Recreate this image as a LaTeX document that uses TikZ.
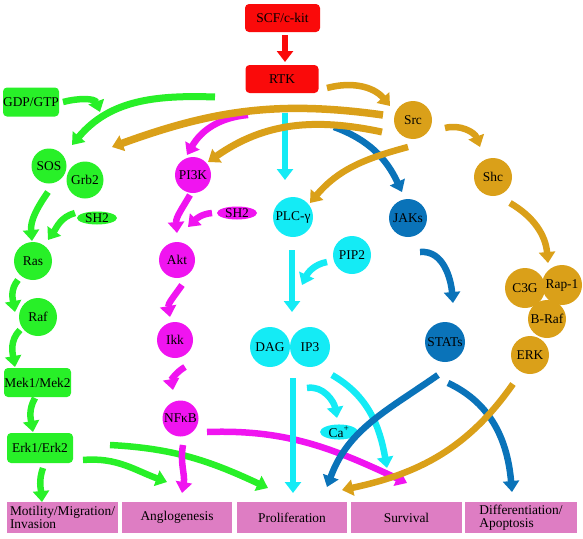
\documentclass[tikz,border=0pt]{standalone}
\usepackage{fontspec}
\setmainfont{Liberation Serif}
\usetikzlibrary{arrows.meta,shapes.geometric}

\definecolor{kred}{RGB}{250,10,10}
\definecolor{kgreen}{RGB}{40,240,40}
\definecolor{kmagenta}{RGB}{240,20,240}
\definecolor{kcyan}{RGB}{20,235,245}
\definecolor{kblue}{RGB}{10,115,185}
\definecolor{korange}{RGB}{218,160,25}
\definecolor{kpink}{RGB}{222,125,195}

\begin{document}
\begin{tikzpicture}[x=1pt, y=1pt,
    every node/.style={font=\fontsize{13.4}{13.4}\selectfont, inner sep=0pt},
    mol/.style={circle, fill=#1, minimum size=38pt},
    plate/.style={rectangle, rounded corners=4pt, fill=#1, minimum height=29pt},
    motif/.style={ellipse, fill=#1, minimum width=40pt, minimum height=13pt},
    fate/.style={rectangle, fill=kpink, minimum width=110pt, minimum height=31pt, align=left},
    arr/.style={draw=#1, line width=6.5pt, -{Triangle[width=16pt,length=11pt]}}]
    \useasboundingbox (0,0) rectangle (583,-538);
    \node[plate=kred, minimum width=75pt, minimum height=28pt] (scf) at (282.5,-18) {SCF/c-kit};
    \node[plate=kred, minimum width=73pt, minimum height=28pt] (rtk) at (282,-79) {RTK};
    \node[plate=kgreen, minimum width=56pt] (gdp) at (31,-102) {GDP/GTP};
    \node[mol=kgreen, minimum size=35pt] (sos) at (49,-166) {SOS};
    \node[mol=kgreen, minimum size=37pt] (grb2) at (85,-180) {Grb2};
    \node[motif=kgreen] (sh2g) at (97,-218) {SH2};
    \node[mol=kgreen] (ras) at (33,-261) {Ras};
    \node[mol=kgreen] (raf) at (38,-317) {Raf};
    \node[plate=kgreen, minimum width=67pt] (mek) at (37.5,-382.5) {Mek1/Mek2};
    \node[plate=kgreen, minimum width=66pt, minimum height=30pt] (erk12) at (40,-448) {Erk1/Erk2};
    \node[mol=kmagenta, minimum size=36pt] (pi3k) at (193,-175) {PI3K};
    \node[motif=kmagenta] (sh2m) at (237,-213) {SH2};
    \node[mol=kmagenta, minimum size=36pt] (akt) at (177,-260) {Akt};
    \node[mol=kmagenta, minimum size=36pt] (ikk) at (175,-340) {Ikk};
    \node[mol=kmagenta, minimum size=36pt] (nfkb) at (180.5,-418.5) {NFκB};
    \node[mol=kcyan, minimum size=40pt] (plc) at (293,-217) {PLC-γ};
    \node[mol=kcyan] (pip2) at (352,-255) {PIP2};
    \node[mol=kcyan, minimum size=40pt] (dag) at (270,-347) {DAG};
    \node[mol=kcyan, minimum size=40pt] (ip3) at (310,-347) {IP3};
    \node[motif=kcyan, minimum width=38pt] (ca) at (339,-432) {Ca\textsuperscript{+}};
    \node[mol=kblue] (jaks) at (408,-218) {JAKs};
    \node[mol=kblue, minimum size=40pt] (stats) at (445,-342) {STATs};
    \node[mol=korange] (src) at (413,-120) {Src};
    \node[mol=korange] (shc) at (493,-177) {Shc};
    \node[mol=korange, minimum size=40pt] (c3g) at (525,-288) {C3G};
    \node[mol=korange, minimum size=40pt] (rap1) at (562,-285) {Rap-1};
    \node[mol=korange] (braf) at (547,-319) {B-Raf};
    \node[mol=korange] (erk) at (530,-355) {ERK};
    \node[fate, minimum width=111pt] (mot) at (62.5,-517.5) {Motility/Migration/\\Invasion};
    \node[fate] (ang) at (177,-517.5) {Anglogenesis};
    \node[fate] (pro) at (292,-517.5) {Proliferation};
    \node[fate, minimum width=111pt] (sur) at (406.5,-517.5) {Survival};
    \node[fate, minimum width=112pt] (dif) at (521,-517.5) {Differentiation/\\Apoptosis};

    \draw[arr=kred] ([shift={(2.5,-17)}]scf.center) -- ([shift={(3,17)}]rtk.center);
    \draw[arr=kgreen] ([shift={(32,0)}]gdp.center) to[out=15,in=110] ([shift={(69,-10)}]gdp.center);
    \draw[arr=kgreen, line width=7pt] ([shift={(-67,-18)}]rtk.center) to[out=178,in=50] ([shift={(23,21)}]sos.center);
    \draw[arr=kgreen] ([shift={(-1,-26)}]sos.center) to[out=235,in=95] ([shift={(-1,20)}]ras.center);
    \draw[arr=kgreen] ([shift={(-22,5)}]sh2g.center) to[out=195,in=55] ([shift={(15,21)}]ras.center);
    \draw[arr=kgreen] ([shift={(-15,-19)}]ras.center) to[out=230,in=100] ([shift={(-23,5)}]raf.center);
    \draw[arr=kgreen] ([shift={(-18,-13)}]raf.center) to[out=225,in=100] ([shift={(-22.5,15.5)}]mek.center);
    \draw[arr=kgreen] ([shift={(-2.5,-15.5)}]mek.center) to[out=240,in=100] ([shift={(-7,16)}]erk12.center);
    \draw[arr=kgreen] ([shift={(3,-20)}]erk12.center) to[out=250,in=95] ([shift={(-20.5,15.5)}]mot.center);
    \draw[arr=kgreen] ([shift={(43,-12)}]erk12.center) to[out=5,in=160] ([shift={(-10,35.5)}]ang.center);
    \draw[arr=kgreen] ([shift={(70,3)}]erk12.center) to[out=-3,in=155] ([shift={(-24,29.5)}]pro.center);

    \draw[arr=kmagenta] ([shift={(-34,-36)}]rtk.center) to[out=185,in=60] ([shift={(-6,20)}]pi3k.center);
    \draw[arr=kmagenta] ([shift={(-3,-20)}]pi3k.center) to[out=240,in=95] ([shift={(0,27)}]akt.center);
    \draw[arr=kmagenta] ([shift={(-25,0)}]sh2m.center) to[out=185,in=45] ([shift={(11,33)}]akt.center);
    \draw[arr=kmagenta] ([shift={(5,-25)}]akt.center) to[out=235,in=100] ([shift={(-5,23)}]ikk.center);
    \draw[arr=kmagenta] ([shift={(10,-27)}]ikk.center) to[out=210,in=100] ([shift={(-7.5,28.5)}]nfkb.center);
    \draw[arr=kmagenta] ([shift={(2.5,-26.5)}]nfkb.center) to[out=-100,in=80] ([shift={(5,24.5)}]ang.center);
    \draw[arr=kmagenta] ([shift={(26.5,-13.5)}]nfkb.center) to[out=2,in=155] ([shift={(0.5,34.5)}]sur.center);

    \draw[arr=kcyan] ([shift={(3,-34)}]rtk.center) -- ([shift={(-8,37)}]plc.center);
    \draw[arr=kcyan] ([shift={(-1,-33)}]plc.center) -- ([shift={(22,35)}]dag.center);
    \draw[arr=kcyan] ([shift={(-25,-7)}]pip2.center) to[out=190,in=65] ([shift={(-50,-30)}]pip2.center);
    \draw[arr=kcyan] ([shift={(-17,-31)}]ip3.center) -- ([shift={(1,24.5)}]pro.center);
    \draw[arr=kcyan] ([shift={(-3,-41)}]ip3.center) to[out=10,in=100] ([shift={(-2,14)}]ca.center);
    \draw[arr=kcyan] ([shift={(22,-28)}]ip3.center) to[out=-30,in=100] ([shift={(-19.5,49.5)}]sur.center);

    \draw[arr=kblue] ([shift={(52,-48)}]rtk.center) to[out=-20,in=115] ([shift={(-6,26)}]jaks.center);
    \draw[arr=kblue] ([shift={(12,-34)}]jaks.center) to[out=5,in=95] ([shift={(8,39)}]stats.center);
    \draw[arr=kblue] ([shift={(-7,-33)}]stats.center) to[out=215,in=70] ([shift={(35,30.5)}]pro.center);
    \draw[arr=kblue] ([shift={(3,-41)}]stats.center) to[out=-25,in=95] ([shift={(-9,25.5)}]dif.center);

    \draw[arr=korange] ([shift={(45,-9)}]rtk.center) to[out=15,in=130] ([shift={(-23,14)}]src.center);
    \draw[arr=korange, line width=7.5pt] ([shift={(-30,5)}]src.center) to[out=172,in=20] ([shift={(27,33)}]grb2.center);
    \draw[arr=korange, line width=7pt] ([shift={(-31,-12)}]src.center) to[out=168,in=35] ([shift={(15,13)}]pi3k.center);
    \draw[arr=korange] ([shift={(-5,-27)}]src.center) to[out=195,in=50] ([shift={(17,14)}]plc.center);
    \draw[arr=korange] ([shift={(32,-8)}]src.center) to[out=15,in=110] ([shift={(-13,30)}]shc.center);
    \draw[arr=korange] ([shift={(17,-26)}]shc.center) to[out=-30,in=95] ([shift={(23,25)}]c3g.center);
    \draw[arr=korange] ([shift={(-17,-29)}]erk.center) to[out=235,in=12] ([shift={(50,27.5)}]pro.center);
\end{tikzpicture}
\end{document}
